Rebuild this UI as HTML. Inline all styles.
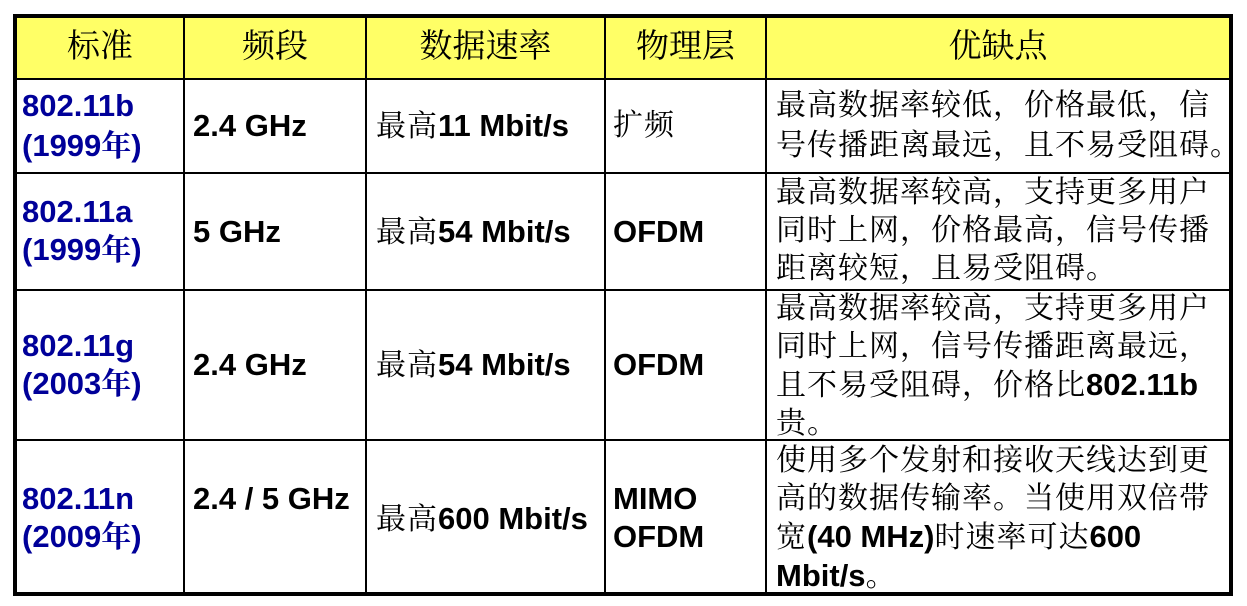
<!DOCTYPE html>
<html><head><meta charset="utf-8"><style>
body{margin:0;width:1247px;height:606px;background:#fff;position:relative;overflow:hidden;font-family:"Liberation Sans","Noto Sans CJK SC",sans-serif;}
.l{position:absolute;background:#000;}
.t{position:absolute;white-space:nowrap;font-size:30px;line-height:38px;color:#000;}
.cj{font-family:"Liberation Serif","Noto Serif CJK SC",serif;letter-spacing:1px;font-size:30px;}
.b{font-family:"Liberation Sans",sans-serif;font-weight:bold;letter-spacing:0;font-size:31px;}
.blue{color:#000099;font-weight:bold;font-size:31px;}
.blue .cj{letter-spacing:0;}
.h{position:absolute;top:16px;height:62px;line-height:62px;text-align:center;font-family:"Liberation Serif","Noto Serif CJK SC",serif;font-size:33px;}
</style></head><body>
<div style="position:absolute;left:15px;top:16px;width:1215px;height:62px;background:#ffff66"></div>
<div class="l" style="left:13px;top:14px;width:1220px;height:4px"></div>
<div class="l" style="left:13px;top:592px;width:1220px;height:4px"></div>
<div class="l" style="left:13px;top:14px;width:4px;height:582px"></div>
<div class="l" style="left:1229px;top:14px;width:4px;height:582px"></div>
<div class="l" style="left:183px;top:14px;width:2px;height:580px"></div>
<div class="l" style="left:365px;top:14px;width:2px;height:580px"></div>
<div class="l" style="left:604px;top:14px;width:2px;height:580px"></div>
<div class="l" style="left:765px;top:14px;width:2px;height:580px"></div>
<div class="l" style="left:13px;top:78px;width:1220px;height:2px"></div>
<div class="l" style="left:13px;top:172px;width:1220px;height:2px"></div>
<div class="l" style="left:13px;top:289px;width:1220px;height:2px"></div>
<div class="l" style="left:13px;top:439px;width:1220px;height:2px"></div>
<div class="h" style="left:17px;width:166px">标准</div>
<div class="h" style="left:185px;width:180px">频段</div>
<div class="h" style="left:367px;width:237px">数据速率</div>
<div class="h" style="left:606px;width:159px">物理层</div>
<div class="h" style="left:767px;width:462px">优缺点</div>
<div class="t blue" style="left:22px;top:86px;line-height:40px">802.11b<br>(1999<span class="cj">年</span>)</div>
<div class="t b" style="left:193px;top:107px">2.4 GHz</div>
<div class="t" style="left:376px;top:107px"><span class="cj">最高</span><span class="b">11 Mbit/s</span></div>
<div class="t cj" style="left:613px;top:107px">扩频</div>
<div class="t cj" style="left:776px;top:86px;line-height:40px">最高数据率较低，价格最低，信<br>号传播距离最远，且不易受阻碍。</div>
<div class="t blue" style="left:22px;top:193px">802.11a<br>(1999<span class="cj">年</span>)</div>
<div class="t b" style="left:193px;top:213px">5 GHz</div>
<div class="t" style="left:376px;top:213px"><span class="cj">最高</span><span class="b">54 Mbit/s</span></div>
<div class="t b" style="left:613px;top:213px">OFDM</div>
<div class="t cj" style="left:776px;top:174px">最高数据率较高，支持更多用户<br>同时上网，价格最高，信号传播<br>距离较短，且易受阻碍。</div>
<div class="t blue" style="left:22px;top:327px">802.11g<br>(2003<span class="cj">年</span>)</div>
<div class="t b" style="left:193px;top:346px">2.4 GHz</div>
<div class="t" style="left:376px;top:346px"><span class="cj">最高</span><span class="b">54 Mbit/s</span></div>
<div class="t b" style="left:613px;top:346px">OFDM</div>
<div class="t cj" style="left:776px;top:290px">最高数据率较高，支持更多用户<br>同时上网，信号传播距离最远，<br>且不易受阻碍，价格比<span class="b">802.11b</span><br>贵。</div>
<div class="t blue" style="left:22px;top:480px">802.11n<br>(2009<span class="cj">年</span>)</div>
<div class="t b" style="left:193px;top:480px">2.4 / 5 GHz</div>
<div class="t" style="left:376px;top:500px"><span class="cj">最高</span><span class="b">600 Mbit/s</span></div>
<div class="t b" style="left:613px;top:480px">MIMO<br>OFDM</div>
<div class="t cj" style="left:776px;top:442px">使用多个发射和接收天线达到更<br>高的数据传输率。当使用双倍带<br>宽<span class="b">(40 MHz)</span>时速率可达<span class="b">600</span><br><span class="b">Mbit/s</span>。</div>
</body></html>
